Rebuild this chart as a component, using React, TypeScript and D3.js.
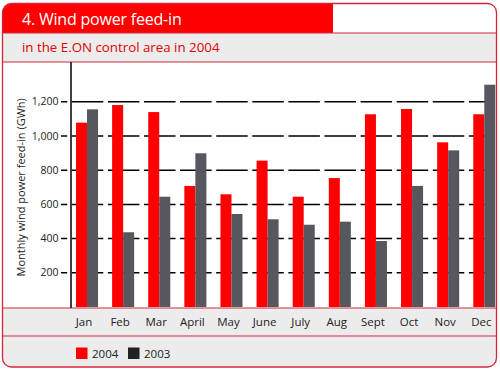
import React, { useEffect } from 'react';
import * as d3 from 'd3';

const months = ['Jan', 'Feb', 'Mar', 'April', 'May', 'June', 'July', 'Aug', 'Sept', 'Oct', 'Nov', 'Dec'];
const feedIn2004 = [1078, 1181, 1140, 708, 659, 856, 645, 754, 1127, 1158, 963, 1127];
const feedIn2003 = [1156, 437, 645, 899, 544, 513, 481, 499, 386, 708, 916, 1300];
const yTicks = [200, 400, 600, 800, 1000, 1200];
const seriesNames = ['2004', '2003'];

const W = 500;
const H = 369;
const RED = '#ff0000';
const BORDER = '#d2283c';
const GRAY = '#57575f';
const BAND = '#ececec';
const FONT = '"Open Sans", "DejaVu Sans", sans-serif';

const App = () => {
  useEffect(() => {
    document.body.style.margin = '0';
  }, []);

  const x = d3.scaleBand().domain(months).range([76, 495.3]).paddingInner(0.39).paddingOuter(0);
  const sub = d3.scaleBand().domain(seriesNames).range([0, x.bandwidth()]);
  const y = d3.scaleLinear().domain([0, 1000]).range([307, 136]);

  const rows = months.map((m, i) => ({ m, v: [feedIn2004[i], feedIn2003[i]] }));

  return (
    <svg width={W} height={H} style={{ display: 'block', fontFamily: FONT }}>
      <defs>
        <clipPath id="frame">
          <rect x={2.5} y={3.5} width={494} height={363.5} rx={9} />
        </clipPath>
      </defs>
      <g clipPath="url(#frame)">
        <rect x={0} y={0} width={W} height={H} fill="#fff" />
        <rect x={0} y={33} width={W} height={29} fill={BAND} />
        <rect x={0} y={308} width={W} height={60} fill={BAND} />
        <rect x={0} y={0} width={333} height={33} fill={RED} />
      </g>
      <rect x={2.5} y={3.5} width={494} height={363.5} rx={9} fill="none" stroke={BORDER} strokeWidth={1.3} />
      {[33, 62, 308, 336].map((ly) => (
        <line key={ly} x1={2.5} x2={496.5} y1={ly} y2={ly} stroke={BORDER} strokeWidth={1.2} />
      ))}

      <text x={22} y={25} fill="#fff" fontSize={16} letterSpacing={-0.2}>4. Wind power feed-in</text>
      <text x={22} y={52} fill="#e00000" fontSize={13.3}>in the E.ON control area in 2004</text>

      {yTicks.map((t) => (
        <g key={t}>
          <line x1={61} x2={495} y1={y(t)} y2={y(t)} stroke="#000" strokeWidth={1.5}
            strokeDasharray="31.5 4.6" strokeDashoffset={25.3} />
          <text x={58.5} y={y(t)} dy="0.35em" textAnchor="end" fontSize={10.5} fill="#222">
            {d3.format(',')(t)}
          </text>
        </g>
      ))}
      <text transform={`translate(25,${y(700)}) rotate(-90)`} textAnchor="middle" fontSize={11} fill="#222">
        Monthly wind power feed-in (GWh)
      </text>

      {rows.map((r) => (
        <g key={r.m} transform={`translate(${x(r.m)},0)`}>
          {r.v.map((v, j) => (
            <rect key={j} x={sub(seriesNames[j])} y={y(v)} width={sub.bandwidth()} height={y(0) - y(v)}
              fill={j === 0 ? RED : GRAY} />
          ))}
          <text x={x.bandwidth() / 2 - 3} y={326} textAnchor="middle" fontSize={11.5} fill="#222">{r.m}</text>
        </g>
      ))}
      <line x1={71} x2={71} y1={62} y2={308} stroke="#000" strokeWidth={1.5} />

      {seriesNames.map((s, i) => (
        <g key={s} transform={`translate(${76 + i * 52},347.5)`}>
          <rect width={11.5} height={11.5} fill={i === 0 ? RED : '#222'} />
          <text x={16} y={10.5} fontSize={11.5} fill="#222">{s}</text>
        </g>
      ))}
    </svg>
  );
};

export default App;
